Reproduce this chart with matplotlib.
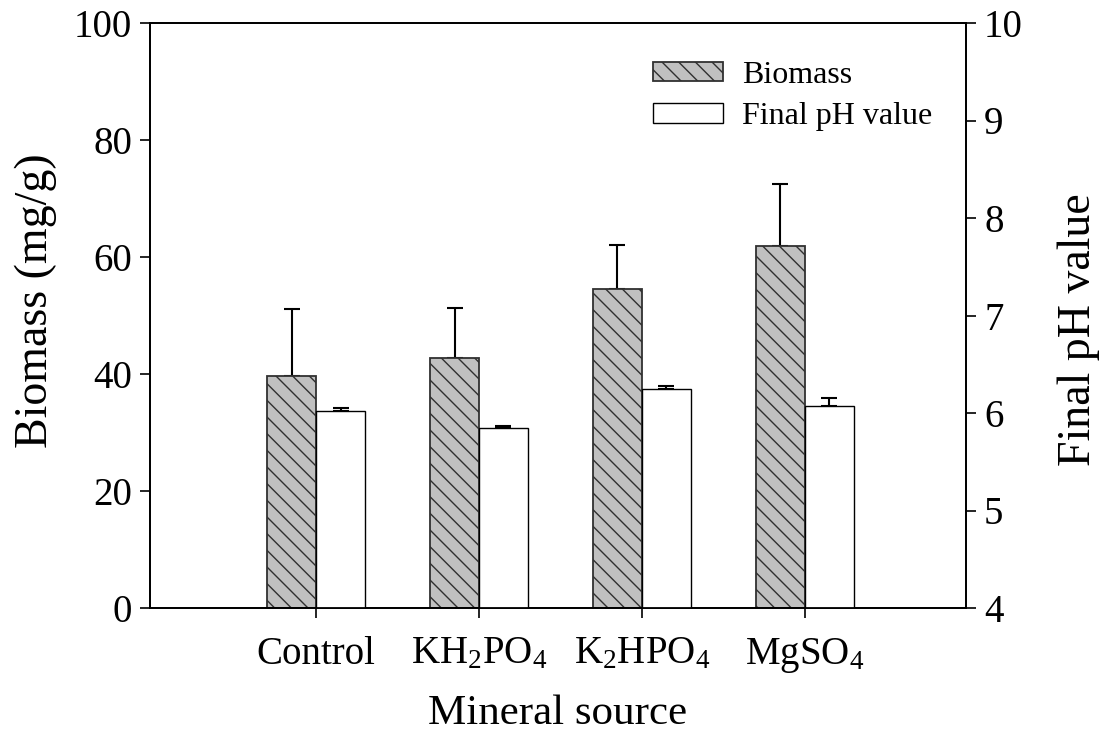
import numpy as np
import matplotlib
matplotlib.use('Agg')
from matplotlib import pyplot as plt

plt.rcParams['font.family'] = ['Liberation Serif', 'DejaVu Serif']
plt.rcParams['mathtext.fontset'] = 'custom'
plt.rcParams['mathtext.rm'] = 'Liberation Serif'
plt.rcParams['mathtext.it'] = 'Liberation Serif'
plt.rcParams['hatch.linewidth'] = 1.0

# data
sources = ['Control', r'KH$\mathregular{_2}$PO$\mathregular{_4}$',
           r'K$\mathregular{_2}$HPO$\mathregular{_4}$', r'MgSO$\mathregular{_4}$']
biomass = [39.7, 42.8, 54.5, 61.8]
biomass_err = [11.4, 8.4, 7.6, 10.7]
ph = [6.02, 5.85, 6.25, 6.07]
ph_err = [0.03, 0.02, 0.03, 0.08]

fig = plt.figure(figsize=(11.01, 7.40), dpi=100)
ax = fig.add_axes([150/1101, 132/740, 816/1101, 585/740])
ax2 = ax.twinx()

x = np.arange(len(sources))
w = 0.3

b1 = ax.bar(x - w/2, biomass, w, color='#c0c0c0', edgecolor='#303030',
            hatch='\\\\', linewidth=1.3, label='Biomass', zorder=2)
ax.errorbar(x - w/2, biomass, yerr=[np.zeros(4), biomass_err], fmt='none',
            ecolor='black', elinewidth=1.5, capsize=6, capthick=1.5, zorder=1)

b2 = ax2.bar(x + w/2, ph, w, bottom=0, color='white', edgecolor='black',
             linewidth=1.0, label='Final pH value', zorder=2)
ax2.errorbar(x + w/2, ph, yerr=[np.zeros(4), ph_err], fmt='none',
             ecolor='black', elinewidth=1.5, capsize=6, capthick=1.5, zorder=1)

ax.set_xlim(-1.02, 3.99)
ax.set_ylim(0, 100)
ax2.set_ylim(4, 10)
ax.set_xticks(x)
ax.set_xticklabels(sources)
ax.set_yticks(np.arange(0, 101, 20))
ax2.set_yticks(np.arange(4, 11, 1))

for a in (ax, ax2):
    a.tick_params(direction='out', length=7, width=1.2, labelsize=28, pad=6)
    for s in a.spines.values():
        s.set_linewidth(1.3)
ax.tick_params(axis='x', pad=13)

ax.set_xlabel('Mineral source', fontsize=31, labelpad=14)
ax.set_ylabel('Biomass (mg/g)', fontsize=33, labelpad=12)
ax2.set_ylabel('Final pH value', fontsize=33, labelpad=25)
ax.yaxis.label.set_y(0.525)
ax2.yaxis.label.set_y(0.475)

ax2.legend([b1, b2], ['Biomass', 'Final pH value'], loc='upper right',
           bbox_to_anchor=(0.994, 0.985), frameon=False, fontsize=23,
           handlelength=2.2, handleheight=0.55, handletextpad=0.6,
           labelspacing=0.4)

fig.savefig('out.png', dpi=100)
